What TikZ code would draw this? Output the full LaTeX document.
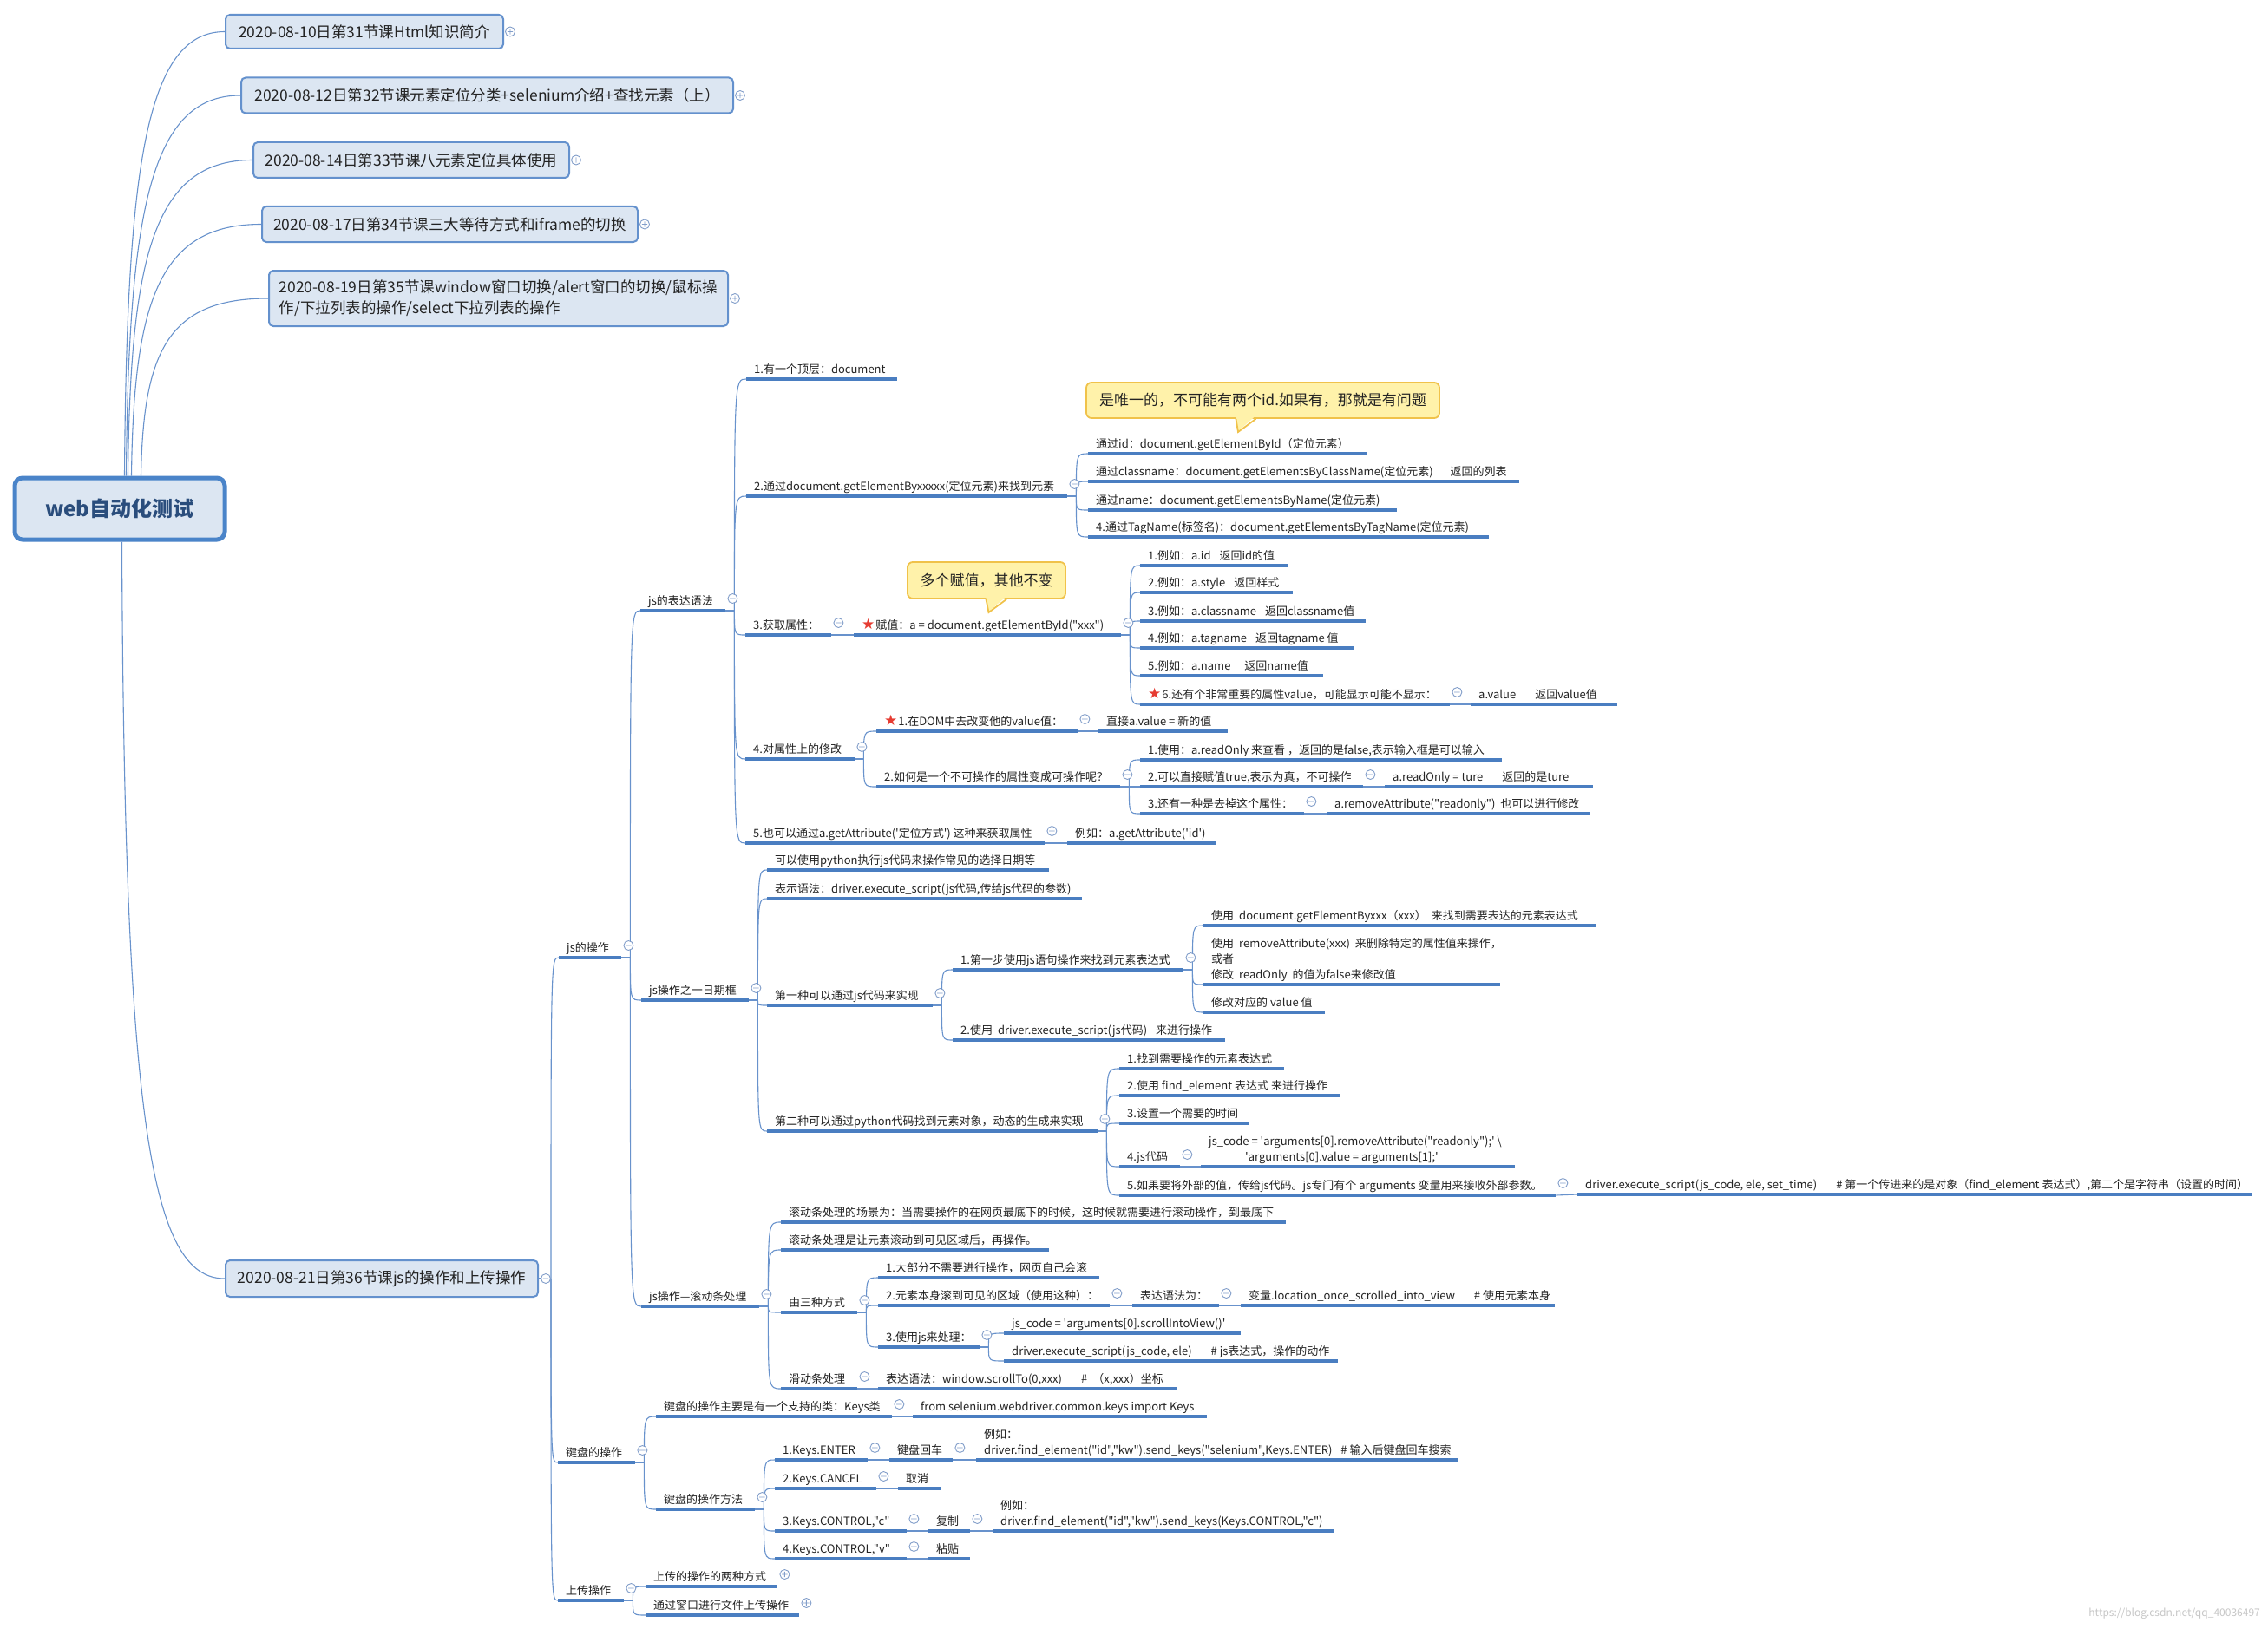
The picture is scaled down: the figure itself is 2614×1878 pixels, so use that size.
\documentclass[tikz,border=0pt]{standalone}
\usepackage{fontspec}
\newfontfamily\cjk{Noto Sans CJK SC}
\newfontfamily\symf{DejaVu Sans}
\usetikzlibrary{calc}
\definecolor{ul}{RGB}{74,126,193}
\definecolor{cn}{RGB}{104,146,204}
\definecolor{cmc}{RGB}{130,158,202}
\definecolor{boxfill}{RGB}{220,230,242}
\definecolor{boxdraw}{RGB}{100,145,205}
\definecolor{rootdraw}{RGB}{74,132,201}
\definecolor{roottext}{RGB}{42,77,124}
\definecolor{txt}{RGB}{35,35,35}
\definecolor{callfill}{RGB}{255,242,170}
\definecolor{calldraw}{RGB}{240,194,74}
\definecolor{starred}{RGB}{230,60,50}
% topic: name, x1, x2, y(underline), text
\newcommand{\mtopic}[5]{\node[topic] (#1) at (#2,#4) {\makebox[\dimexpr#3pt-#2pt\relax][l]{\hspace{9pt}#5}};\draw[uline] (#1.south west) -- (#1.south east);}
\newcommand{\mtopicm}[5]{\node[topic] (#1) at (#2,#4) {\makebox[\dimexpr#3pt-#2pt\relax][l]{\hspace{9pt}\begin{tabular}[b]{@{}l@{}}#5\end{tabular}}};\draw[uline] (#1.south west) -- (#1.south east);}
\newcommand{\mfork}[1]{\coordinate (#1F) at ($(#1.south east)+(10,0)$);\draw[conn] (#1.south east) -- (#1F);}
\newcommand{\mbranch}[2]{\draw[conn] (#1F) .. controls (#1F |- #2.south west) .. (#2.south west);}
\newcommand{\mdirect}[2]{\draw[conn] (#1.south east) -- (#2.south west);}
\newcommand{\cmi}[1]{\draw[cmk] ($(#1.south east)+(8,-14)$) circle[radius=5.5pt] +(-3.2,0) -- +(3.2,0);}
\newcommand{\cpl}[1]{\draw[cmk] ($(#1.south east)+(8,-14)$) circle[radius=5.5pt] +(-3.2,0) -- +(3.2,0) +(0,-3.2) -- +(0,3.2);}
\newcommand{\rstar}{{\symf\fontsize{17}{18}\selectfont\textcolor{starred}{★}}\hspace{1pt}}
\begin{document}
\begin{tikzpicture}[x=1pt,y=-1pt,font=\cjk\fontsize{13}{18}\selectfont,
  topic/.style={anchor=south west,inner xsep=0pt,inner ysep=3pt,text depth=3pt,text=txt},
  uline/.style={draw=ul,line width=3.6pt},
  conn/.style={draw=cn,line width=1.1pt},
  rconn/.style={draw=cn,line width=1.1pt},
  cmk/.style={draw=cmc,line width=0.9pt,fill=white},
  tbox/.style={draw=boxdraw,line width=2pt,fill=boxfill,rounded corners=5pt,font=\cjk\fontsize{17.5}{24}\selectfont,text=txt,inner sep=0pt},
  rootbox/.style={draw=rootdraw,line width=5pt,fill=boxfill,rounded corners=9pt,font=\cjk\bfseries\fontsize{24}{28}\selectfont,text=roottext,inner sep=0pt},
  callout/.style={draw=calldraw,line width=1.8pt,fill=callfill,rounded corners=6pt,font=\cjk\fontsize{17}{22}\selectfont,text=txt,inner sep=0pt}]
\fill[white] (0,0) rectangle (2614,1878);
\useasboundingbox (0,0) rectangle (2614,1878);

% ---------- root and top-level boxes ----------
\node[rootbox,minimum width=242pt,minimum height=71pt] (root) at (138,586.5) {web自动化测试};
\node[tbox,minimum width=320pt,minimum height=39pt] (b1) at (420,36.5) {2020-08-10日第31节课Html知识简介};
\node[tbox,minimum width=567pt,minimum height=41pt] (b2) at (561.5,110) {2020-08-12日第32节课元素定位分类+selenium介绍+查找元素（上）};
\node[tbox,minimum width=364pt,minimum height=41pt] (b3) at (474,184.5) {2020-08-14日第33节课八元素定位具体使用};
\node[tbox,minimum width=433pt,minimum height=41pt] (b4) at (518.5,258.5) {2020-08-17日第34节课三大等待方式和iframe的切换};
\node[tbox,minimum width=529pt,minimum height=64pt,align=left] (b5) at (574.5,344) {2020-08-19日第35节课window窗口切换/alert窗口的切换/鼠标操\\作/下拉列表的操作/select下拉列表的操作};
\node[tbox,minimum width=360pt,minimum height=42pt] (b6) at (440,1474) {2020-08-21日第36节课js的操作和上传操作};

\draw[rconn] ([xshift=129pt]root.north west) .. controls (146,190) and (169,36.5) .. (b1.west);
\draw[rconn] ([xshift=131pt]root.north west) .. controls (148,242) and (174,110) .. (b2.west);
\draw[rconn] ([xshift=133pt]root.north west) .. controls (150,294) and (178,184.5) .. (b3.west);
\draw[rconn] ([xshift=137pt]root.north west) .. controls (154,346) and (184,258.5) .. (b4.west);
\draw[rconn] ([xshift=148pt]root.north west) .. controls (165,405) and (194,344) .. (b5.west);
\draw[rconn] ([xshift=126pt]root.south west) .. controls (143,1300) and (175,1474) .. (b6.west);

% ---------- level 2 ----------
\mtopic{js}{644}{716}{1104}{js的操作}
\mtopic{kb}{643}{732}{1686}{键盘的操作}
\mtopic{up}{643}{719}{1845}{上传操作}
\coordinate (b6F) at ($(b6.east)+(14,0)$);
\draw[conn] (b6.east) -- (b6F);
\mbranch{b6}{js}\mbranch{b6}{kb}\mbranch{b6}{up}

% ---------- js的操作 ----------
\mtopic{ex}{738}{836}{704}{js的表达语法}
\mtopic{date}{739}{863}{1153}{js操作之一日期框}
\mtopic{scr}{739}{875}{1506}{js操作—滚动条处理}
\mfork{js}\mbranch{js}{ex}\mbranch{js}{date}\mbranch{js}{scr}

% ---------- js的表达语法 ----------
\mtopic{ea}{860}{1034}{437}{1.有一个顶层：document}
\mtopic{eb}{860}{1230}{572}{2.通过document.getElementByxxxxx(定位元素)来找到元素}
\mtopic{ec}{859}{958}{732}{3.获取属性：}
\mtopic{ed}{859}{985}{875}{4.对属性上的修改}
\mtopic{ee}{859}{1204}{972}{5.也可以通过a.getAttribute('定位方式') 这种来获取属性}
\mfork{ex}\mbranch{ex}{ea}\mbranch{ex}{eb}\mbranch{ex}{ec}\mbranch{ex}{ed}\mbranch{ex}{ee}

\mtopic{eba}{1254}{1576}{523}{通过id：document.getElementById（定位元素）}
\mtopic{ebb}{1254}{1751}{555}{通过classname：document.getElementsByClassName(定位元素)\hspace{20pt}返回的列表}
\mtopic{ebc}{1254}{1610}{588}{通过name：document.getElementsByName(定位元素)}
\mtopic{ebd}{1254}{1716}{619}{4.通过TagName(标签名)：document.getElementsByTagName(定位元素)}
\mfork{eb}\mbranch{eb}{eba}\mbranch{eb}{ebb}\mbranch{eb}{ebc}\mbranch{eb}{ebd}

\mtopic{eca}{984}{1292}{732}{\rstar 赋值：a = document.getElementById("xxx")}
\mdirect{ec}{eca}
\mtopic{ecb}{1314}{1484}{652}{1.例如：a.id\hspace{10pt}返回id的值}
\mtopic{ecc}{1314}{1490}{683}{2.例如：a.style\hspace{10pt}返回样式}
\mtopic{ecd}{1314}{1574}{716}{3.例如：a.classname\hspace{10pt}返回classname值}
\mtopic{ece}{1314}{1561}{747}{4.例如：a.tagname\hspace{10pt}返回tagname 值}
\mtopic{ecf}{1314}{1525}{779}{5.例如：a.name\hspace{16pt}返回name值}
\mtopic{ecg}{1314}{1671}{812}{\rstar 6.还有个非常重要的属性value，可能显示可能不显示：}
\mfork{eca}\mbranch{eca}{ecb}\mbranch{eca}{ecc}\mbranch{eca}{ecd}\mbranch{eca}{ece}\mbranch{eca}{ecf}\mbranch{eca}{ecg}
\mtopic{ech}{1695}{1864}{812}{a.value\hspace{22pt}返回value值}
\mdirect{ecg}{ech}

\mtopic{eda}{1010}{1242}{843}{\rstar 1.在DOM中去改变他的value值：}
\mtopic{edb}{1010}{1291}{907}{2.如何是一个不可操作的属性变成可操作呢？}
\mfork{ed}\mbranch{ed}{eda}\mbranch{ed}{edb}
\mtopic{edc}{1266}{1415}{843}{直接a.value = 新的值}
\mdirect{eda}{edc}
\mtopic{edd}{1314}{1731}{876}{1.使用：a.readOnly 来查看 ，返回的是false,表示输入框是可以输入}
\mtopic{ede}{1314}{1571}{907}{2.可以直接赋值true,表示为真，不可操作}
\mtopic{edf}{1314}{1503}{938}{3.还有一种是去掉这个属性：}
\mfork{edb}\mbranch{edb}{edd}\mbranch{edb}{ede}\mbranch{edb}{edf}
\mtopic{edg}{1596}{1836}{907}{a.readOnly = ture\hspace{22pt}返回的是ture}
\mdirect{ede}{edg}
\mtopic{edh}{1529}{1833}{938}{a.removeAttribute("readonly")\hspace{6pt}也可以进行修改}
\mdirect{edf}{edh}
\mtopic{eea}{1230}{1402}{972}{例如：a.getAttribute('id')}
\mdirect{ee}{eea}

% callouts
\node[callout,minimum width=407pt,minimum height=41pt] (co1) at (1455.5,461.5) {是唯一的，不可能有两个id.如果有，那就是有问题};
\fill[callfill] (1424.5,479) -- (1427,497) -- (1447.5,479) -- cycle;
\draw[draw=calldraw,line width=1.8pt] ([xshift=-31pt]co1.south) -- (1427,498) -- ([xshift=-8pt]co1.south);
\node[callout,minimum width=182pt,minimum height=42pt] (co2) at (1137,669) {多个赋值，其他不变};
\fill[callfill] (1136,687) -- (1139.5,705) -- (1160.5,687) -- cycle;
\draw[draw=calldraw,line width=1.8pt] ([xshift=-0.5pt]co2.south) -- (1139.5,706) -- ([xshift=23pt]co2.south);

% ---------- 日期框 ----------
\mtopic{da}{884}{1209}{1003}{可以使用python执行js代码来操作常见的选择日期等}
\mtopic{db}{884}{1247}{1036}{表示语法：driver.execute\_script(js代码,传给js代码的参数)}
\mtopic{dc}{884}{1075}{1159}{第一种可以通过js代码来实现}
\mtopic{dd}{884}{1265}{1304}{第二种可以通过python代码找到元素对象，动态的生成来实现}
\mfork{date}\mbranch{date}{da}\mbranch{date}{db}\mbranch{date}{dc}\mbranch{date}{dd}

\mtopic{dca}{1098}{1364}{1118}{1.第一步使用js语句操作来找到元素表达式}
\mtopic{dcb}{1098}{1412}{1199}{2.使用\hspace{6pt}driver.execute\_script(js代码)\hspace{10pt}来进行操作}
\mfork{dc}\mbranch{dc}{dca}\mbranch{dc}{dcb}
\mtopic{dcc}{1387}{1839}{1067}{使用\hspace{6pt}document.getElementByxxx（xxx）\hspace{6pt}来找到需要表达的元素表达式}
\mtopicm{dcd}{1387}{1729}{1135}{使用\hspace{6pt}removeAttribute(xxx)\hspace{6pt}来删除特定的属性值来操作，\\或者\\修改\hspace{6pt}readOnly\hspace{6pt}的值为false来修改值}
\mtopic{dce}{1387}{1527}{1167}{修改对应的 value 值}
\mfork{dca}\mbranch{dca}{dcc}\mbranch{dca}{dcd}\mbranch{dca}{dce}

\mtopic{dda}{1290}{1480}{1232}{1.找到需要操作的元素表达式}
\mtopic{ddb}{1290}{1545}{1263}{2.使用 find\_element 表达式 来进行操作}
\mtopic{ddc}{1290}{1440}{1295}{3.设置一个需要的时间}
\mtopic{ddd}{1290}{1360}{1345}{4.js代码}
\mtopic{dde}{1290}{1793}{1378}{5.如果要将外部的值，传给js代码。js专门有个 arguments 变量用来接收外部参数。}
\mfork{dd}\mbranch{dd}{dda}\mbranch{dd}{ddb}\mbranch{dd}{ddc}\mbranch{dd}{ddd}\mbranch{dd}{dde}
\mtopicm{ddf}{1384}{1746}{1345}{js\_code = 'arguments[0].removeAttribute("readonly");' \textbackslash\\\hspace{42pt}'arguments[0].value = arguments[1];'}
\mdirect{ddd}{ddf}
\mtopic{ddg}{1818}{2596}{1377}{driver.execute\_script(js\_code, ele, set\_time)\hspace{22pt}\# 第一个传进来的是对象（find\_element 表达式）,第二个是字符串（设置的时间）}
\mdirect{dde}{ddg}

% ---------- 滚动条 ----------
\mtopic{sa}{900}{1482}{1409}{滚动条处理的场景为：当需要操作的在网页最底下的时候，这时候就需要进行滚动操作，到最底下}
\mtopic{sb}{900}{1209}{1441}{滚动条处理是让元素滚动到可见区域后，再操作。}
\mtopic{sc}{900}{988}{1513}{由三种方式}
\mtopic{sd}{900}{988}{1601}{滑动条处理}
\mfork{scr}\mbranch{scr}{sa}\mbranch{scr}{sb}\mbranch{scr}{sc}\mbranch{scr}{sd}
\mtopic{sca}{1012}{1267}{1473}{1.大部分不需要进行操作，网页自己会滚}
\mtopic{scb}{1012}{1279}{1505}{2.元素本身滚到可见的区域（使用这种）：}
\mtopic{scc}{1012}{1129}{1553}{3.使用js来处理：}
\mfork{sc}\mbranch{sc}{sca}\mbranch{sc}{scb}\mbranch{sc}{scc}
\mtopic{scd}{1305}{1405}{1505}{表达语法为：}
\mdirect{scb}{scd}
\mtopic{sce}{1430}{1792}{1505}{变量.location\_once\_scrolled\_into\_view\hspace{22pt}\# 使用元素本身}
\mdirect{scd}{sce}
\mtopic{scf}{1157}{1430}{1537}{js\_code = 'arguments[0].scrollIntoView()'}
\mtopic{scg}{1157}{1542}{1569}{driver.execute\_script(js\_code, ele)\hspace{22pt}\# js表达式，操作的动作}
\mfork{scc}\mbranch{scc}{scf}\mbranch{scc}{scg}
\mtopic{sda}{1012}{1356}{1601}{表达语法：window.scrollTo(0,xxx)\hspace{22pt}\#\hspace{6pt}（x,xxx）坐标}
\mdirect{sd}{sda}

% ---------- 键盘 ----------
\mtopic{ka}{756}{1028}{1633}{键盘的操作主要是有一个支持的类：Keys类}
\mtopic{kc}{756}{870}{1740}{键盘的操作方法}
\mfork{kb}\mbranch{kb}{ka}\mbranch{kb}{kc}
\mtopic{kaa}{1052}{1391}{1633}{from selenium.webdriver.common.keys import Keys}
\mdirect{ka}{kaa}
\mtopic{kca}{893}{1000}{1683}{1.Keys.ENTER}
\mtopic{kcb}{893}{1010}{1716}{2.Keys.CANCEL}
\mtopic{kcc}{893}{1045}{1765}{3.Keys.CONTROL,"c"}
\mtopic{kcd}{893}{1045}{1797}{4.Keys.CONTROL,"v"}
\mfork{kc}\mbranch{kc}{kca}\mbranch{kc}{kcb}\mbranch{kc}{kcc}\mbranch{kc}{kcd}
\mtopic{kca1}{1025}{1098}{1683}{键盘回车}
\mdirect{kca}{kca1}
\mtopicm{kca2}{1125}{1680}{1683}{例如：\\driver.find\_element("id","kw").send\_keys("selenium",Keys.ENTER)\hspace{10pt}\# 输入后键盘回车搜索}
\mdirect{kca1}{kca2}
\mtopic{kcb1}{1035}{1084}{1716}{取消}
\mdirect{kcb}{kcb1}
\mtopic{kcc1}{1070}{1118}{1765}{复制}
\mdirect{kcc}{kcc1}
\mtopicm{kcc2}{1144}{1537}{1765}{例如：\\driver.find\_element("id","kw").send\_keys(Keys.CONTROL,"c")}
\mdirect{kcc1}{kcc2}
\mtopic{kcd1}{1070}{1118}{1797}{粘贴}
\mdirect{kcd}{kcd1}

% ---------- 上传 ----------
\mtopic{ua}{744}{896}{1829}{上传的操作的两种方式}
\mtopic{ub}{744}{921}{1862}{通过窗口进行文件上传操作}
\mfork{up}\mbranch{up}{ua}\mbranch{up}{ub}

% ---------- collapse markers ----------
\foreach \n in {js,kb,up,ex,date,scr,eb,ec,eca,ecg,ed,eda,edb,ede,edf,ee,dc,dd,dca,ddd,dde,sc,sd,scb,scd,scc,ka,kc,kca,kca1,kcb,kcc,kcc1,kcd}{\cmi{\n}}
\cpl{ua}\cpl{ub}
\foreach \b in {b1,b2,b3,b4,b5}{\draw[cmk] ($(\b.east)+(7,0)$) circle[radius=5.5pt] +(-3.2,0) -- +(3.2,0) +(0,-3.2) -- +(0,3.2);}
\draw[cmk] ($(b6.east)+(8,0)$) circle[radius=5.5pt] +(-3.2,0) -- +(3.2,0);

\node[anchor=east,text=black!22,font=\cjk\fontsize{12}{14}\selectfont,inner sep=0pt] (wm) at (2605,1860) {https://blog.csdn.net/qq\_40036497};
\end{tikzpicture}
\end{document}
